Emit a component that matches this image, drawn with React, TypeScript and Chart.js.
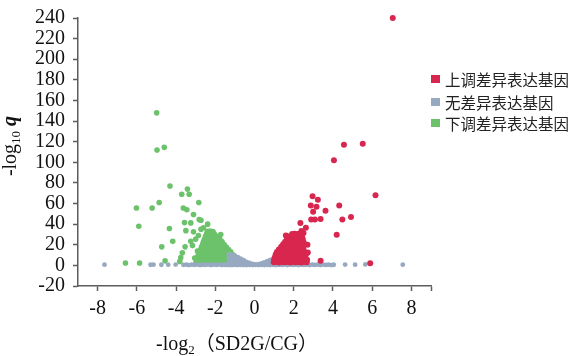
import React, { useEffect, useRef } from "react";
import { Chart, registerables } from "chart.js";

Chart.register(...registerables);

type P = [number, number];

const seriesNames = ["上调差异表达基因", "无差异表达基因", "下调差异表达基因"];
const seriesColors = ["#d8274f", "#97a9c1", "#6cc26b"];
const xTickValues = [-8, -6, -4, -2, 0, 2, 4, 6, 8];
const yTickValues = [-20, 0, 20, 40, 60, 80, 100, 120, 140, 160, 180, 200, 220, 240];

const upIsolated: P[] = [
  [7.05, 240], [4.56, 117], [5.52, 118], [4.05, 102], [6.17, 68], [2.96, 67], [3.23, 63.6],
  [2.87, 58], [3.16, 57], [4.32, 58], [2.99, 52], [3.62, 53], [2.89, 44.5], [3.08, 44.5],
  [3.37, 45], [4.48, 44.5], [4.92, 47], [2.34, 41], [2.62, 36.5], [2.39, 33.4], [4.19, 29.6],
  [3.37, 4.4], [5.9, 2], [2.72, 12.5], [2.7, 20], [1.6, 29], [2.5, 31.5],
];

const upCluster: P[] = [
  [0.98, 3], [1.12, 3.4], [1.26, 2.9], [1.4, 3.2], [1.54, 3], [1.68, 3.4], [1.82, 2.8], [1.96, 3.2], [2.1, 3], [2.24, 3.3], [2.38, 2.9], [2.52, 3.2], [2.66, 3],
  [1.0, 5.5], [1.14, 5.8], [1.28, 5.3], [1.42, 5.6], [1.56, 5.4], [1.7, 5.7], [1.84, 5.5], [1.98, 5.3], [2.12, 5.7], [2.26, 5.5], [2.4, 5.3], [2.54, 5.7], [2.68, 5.4],
  [1.04, 8], [1.18, 8.3], [1.32, 7.8], [1.46, 8.1], [1.6, 8], [1.74, 7.8], [1.88, 8.2], [2.02, 8], [2.16, 7.9], [2.3, 8.2], [2.44, 8], [2.58, 7.8],
  [1.08, 10.5], [1.22, 10.8], [1.36, 10.4], [1.5, 10.6], [1.64, 10.3], [1.78, 10.7], [1.92, 10.5], [2.06, 10.3], [2.2, 10.6], [2.34, 10.4], [2.48, 10.7], [2.62, 10.5],
  [1.14, 13], [1.28, 13.3], [1.42, 12.9], [1.56, 13.1], [1.7, 12.8], [1.84, 13.2], [1.98, 13], [2.12, 12.8], [2.26, 13.2], [2.4, 13], [2.54, 12.9],
  [1.24, 15.5], [1.38, 15.8], [1.52, 15.4], [1.66, 15.6], [1.8, 15.3], [1.94, 15.7], [2.08, 15.5], [2.22, 15.3], [2.36, 15.6], [2.5, 15.4],
  [1.36, 18], [1.5, 18.3], [1.64, 17.9], [1.78, 18.1], [1.92, 17.8], [2.06, 18.2], [2.2, 18], [2.34, 17.8], [2.48, 18.2],
  [1.46, 20.5], [1.6, 20.8], [1.74, 20.4], [1.88, 20.6], [2.02, 20.3], [2.16, 20.7], [2.3, 20.5], [2.44, 20.3], [2.56, 20.6],
  [1.56, 23], [1.7, 23.3], [1.84, 22.9], [1.98, 23.1], [2.12, 22.8], [2.26, 23.2], [2.4, 23], [2.5, 22.8],
  [1.66, 25.5], [1.8, 25.8], [1.94, 25.4], [2.08, 25.6], [2.22, 25.3], [2.36, 25.7], [2.46, 25.5],
  [1.74, 28], [1.88, 28.3], [2.02, 27.9], [2.16, 28.1], [2.3, 27.8], [2.42, 28.2],
  [1.92, 30.5], [2.06, 30.8], [2.2, 30.4], [2.32, 30.6],
];

const noneIsolated: P[] = [
  [-7.65, 0.7], [-5.3, 0.6], [-5.15, 0.7], [-4.75, 0.6], [-4.4, 0.7], [-4.02, 0.8],
  [4.62, 0.8], [5.13, 0.7], [5.65, 0.9], [7.56, 0.7],
];

const noneBand: P[] = [
  [-3.62, 0.4], [-3.48, 0.8], [-3.35, 0.3], [-3.2, 0.7], [-3.06, 0.4], [-2.92, 0.8], [-2.78, 0.3], [-2.64, 0.6],
  [-2.5, 0.4], [-2.36, 0.8], [-2.22, 0.3], [-2.08, 0.7], [-1.94, 0.4], [-1.8, 0.8], [-1.66, 0.3], [-1.52, 0.6], [-1.42, 0.4],
  [-1.3, 0.3], [-1.3, 2.6], [-1.3, 5], [-1.3, 7.5], [-1.3, 10], [-1.3, 11],
  [-1.15, 0.3], [-1.15, 2.6], [-1.15, 5], [-1.15, 7.5], [-1.15, 10],
  [-1.0, 0.4], [-1.0, 2.7], [-1.0, 5], [-1.0, 7.4], [-1.0, 9.5],
  [-0.85, 0.3], [-0.85, 2.6], [-0.85, 5], [-0.85, 8],
  [-0.7, 0.4], [-0.7, 2.5], [-0.7, 4.6], [-0.7, 6.5],
  [-0.55, 0.3], [-0.55, 2.6], [-0.55, 5],
  [-0.4, 0.3], [-0.4, 2], [-0.4, 3.5],
  [-0.25, 0.4], [-0.25, 2.3],
  [-0.1, 0.3], [-0.1, 1.5],
  [0.05, 0.4], [0.05, 1],
  [0.2, 0.3], [0.2, 1.2],
  [0.35, 0.4], [0.35, 2],
  [0.5, 0.3], [0.5, 1.8], [0.5, 3],
  [0.65, 0.4], [0.65, 2.2], [0.65, 4],
  [0.8, 0.3], [0.8, 2.7], [0.8, 5.3],
  [0.95, 0.4], [0.95, 2.6], [0.95, 4.8], [0.95, 6.5],
  [1.1, 0.3], [1.1, 2.5], [1.1, 5], [1.1, 7.5],
  [1.25, 0.4], [1.25, 2.6], [1.25, 5], [1.25, 8.5],
  [1.4, 0.4], [1.54, 0.7], [1.68, 0.3], [1.82, 0.8], [1.96, 0.4], [2.1, 0.7], [2.24, 0.3], [2.38, 0.8],
  [2.52, 0.4], [2.66, 0.7], [2.8, 0.3], [2.94, 0.8], [3.08, 0.4], [3.22, 0.7], [3.36, 0.3], [3.5, 0.8],
  [3.64, 0.4], [3.78, 0.7], [3.92, 0.3], [4.04, 0.6],
];

const downIsolated: P[] = [
  [-4.99, 148], [-4.97, 112], [-4.6, 114.5], [-4.31, 77], [-3.42, 74], [-3.71, 69], [-3.33, 69],
  [-2.84, 61], [-4.86, 61], [-6.02, 55.7], [-5.22, 55.7], [-3.63, 55.7], [-3.45, 54], [-3.11, 49.4],
  [-2.82, 44.4], [-2.73, 43.8], [-3.57, 41.5], [-3.25, 41.2], [-2.39, 40], [-5.9, 38], [-4.34, 35.8],
  [-3.5, 33.7], [-3.11, 32.7], [-2.73, 35], [-4.17, 23.3], [-4.73, 18], [-3.54, 18], [-3.25, 23.3],
  [-3.16, 19.2], [-3.68, 12.3], [-3.76, 7.5], [-2.91, 13.9], [-4.56, 4.4], [-3.81, 3.8],
  [-6.58, 2.3], [-5.86, 2.3], [-3.05, 7.2], [-3.0, 25.5], [-2.86, 29], [-2.6, 36.5], [-1.72, 30],
];

const downCluster: P[] = [
  [-2.98, 3], [-2.84, 3.4], [-2.7, 2.8], [-2.55, 3.2], [-2.4, 3], [-2.26, 3.5], [-2.1, 2.9], [-1.96, 3.3], [-1.8, 3], [-1.66, 3.4], [-1.5, 2.9], [-1.36, 3.2], [-1.2, 3], [-1.06, 3.3], [-0.92, 3], [-0.8, 3.2],
  [-2.95, 5.6], [-2.8, 5.3], [-2.65, 5.8], [-2.5, 5.4], [-2.35, 5.6], [-2.2, 5.3], [-2.05, 5.7], [-1.9, 5.5], [-1.75, 5.8], [-1.6, 5.4], [-1.45, 5.6], [-1.3, 5.3], [-1.16, 5.7], [-1.02, 5.5], [-0.9, 5.3],
  [-2.9, 8.2], [-2.75, 7.8], [-2.6, 8.1], [-2.45, 7.9], [-2.3, 8.3], [-2.15, 8], [-2.0, 7.8], [-1.85, 8.2], [-1.7, 8], [-1.55, 7.9], [-1.4, 8.2], [-1.26, 7.9], [-1.12, 8.1], [-1.0, 7.8],
  [-2.86, 10.4], [-2.7, 10.8], [-2.55, 10.5], [-2.4, 10.3], [-2.25, 10.7], [-2.1, 10.5], [-1.95, 10.2], [-1.8, 10.6], [-1.65, 10.4], [-1.5, 10.7], [-1.36, 10.4], [-1.22, 10.6], [-1.1, 10.3],
  [-2.8, 13.2], [-2.65, 12.8], [-2.5, 13.1], [-2.35, 13.3], [-2.2, 12.9], [-2.05, 13.2], [-1.9, 13], [-1.75, 12.8], [-1.6, 13.2], [-1.46, 13], [-1.33, 12.9], [-1.21, 13.1],
  [-2.74, 15.6], [-2.6, 15.3], [-2.45, 15.7], [-2.3, 15.4], [-2.15, 15.6], [-2.0, 15.3], [-1.85, 15.7], [-1.7, 15.5], [-1.56, 15.3], [-1.43, 15.6], [-1.32, 15.4],
  [-2.7, 18.1], [-2.55, 17.8], [-2.4, 18.2], [-2.25, 18], [-2.1, 17.8], [-1.95, 18.3], [-1.8, 18], [-1.66, 17.9], [-1.54, 18.2], [-1.44, 17.9],
  [-2.64, 20.6], [-2.5, 20.3], [-2.35, 20.7], [-2.2, 20.4], [-2.05, 20.6], [-1.9, 20.3], [-1.77, 20.7], [-1.65, 20.5], [-1.55, 20.3],
  [-2.6, 23.2], [-2.45, 22.8], [-2.3, 23.1], [-2.15, 23.3], [-2.0, 22.9], [-1.87, 23.1], [-1.75, 22.8], [-1.66, 23.2],
  [-2.55, 25.4], [-2.4, 25.7], [-2.25, 25.5], [-2.1, 25.3], [-1.97, 25.7], [-1.86, 25.4], [-1.77, 25.6],
  [-2.5, 28.1], [-2.35, 27.8], [-2.2, 28.2], [-2.07, 28], [-1.95, 27.8], [-1.87, 28.2],
  [-2.44, 30.6], [-2.3, 30.3], [-2.17, 30.7], [-2.05, 30.4],
  [-2.4, 33], [-2.26, 33.4], [-2.12, 32.8],
];

const toXY = (pts: P[]) => pts.map(([x, y]) => ({ x, y }));

const AXIS_COLOR = "#5c5c5c";
const SERIF = '"Liberation Serif", "Times New Roman", serif';

const axisTitlePlugin = {
  id: "axisTitles",
  afterDraw(chart: any) {
    const ctx = chart.ctx as CanvasRenderingContext2D;
    ctx.save();
    ctx.fillStyle = "#111";
    ctx.textBaseline = "alphabetic";
    ctx.textAlign = "left";

    const big = `20px ${SERIF}`;
    const small = `13px ${SERIF}`;
    const bq = `italic bold 20px ${SERIF}`;
    ctx.font = big;
    const w1 = ctx.measureText("-log").width;
    ctx.font = small;
    const w2 = ctx.measureText("10").width;
    ctx.font = big;
    const w3 = ctx.measureText(" ").width;
    ctx.font = bq;
    const w4 = ctx.measureText("q").width;
    const total = w1 + w2 + w3 + w4;
    const ya = chart.chartArea;
    ctx.translate(16, (ya.top + ya.bottom) / 2 - 6);
    ctx.rotate(-Math.PI / 2);
    let x = -total / 2;
    ctx.font = big;
    ctx.fillText("-log", x, 0);
    x += w1;
    ctx.font = small;
    ctx.fillText("10", x, 4);
    x += w2 + w3;
    ctx.font = bq;
    ctx.fillText("q", x, 0);
    ctx.restore();

    ctx.save();
    ctx.fillStyle = "#111";
    ctx.textBaseline = "alphabetic";
    ctx.textAlign = "left";
    const xbig = `20px ${SERIF}, "Noto Sans CJK SC"`;
    const xsmall = `13px ${SERIF}`;
    ctx.font = xbig;
    const a1 = ctx.measureText("-log").width;
    ctx.font = xsmall;
    const a2 = ctx.measureText("2").width;
    ctx.font = xbig;
    const a3 = ctx.measureText("（SD2G/CG）").width;
    const tw = a1 + a2 + a3;
    const cx = 237;
    const by = 350;
    let xx = cx - tw / 2;
    ctx.font = xbig;
    ctx.fillText("-log", xx, by);
    xx += a1;
    ctx.font = xsmall;
    ctx.fillText("2", xx, by + 4);
    xx += a2;
    ctx.font = xbig;
    ctx.fillText("（SD2G/CG）", xx, by);
    ctx.restore();
  },
};

export default function App() {
  const canvasRef = useRef<HTMLCanvasElement | null>(null);

  useEffect(() => {
    if (!canvasRef.current) return;
    const chart = new Chart(canvasRef.current, {
      type: "scatter",
      data: {
        datasets: [
          {
            label: seriesNames[0],
            data: toXY([...upCluster, ...upIsolated]),
            backgroundColor: seriesColors[0],
            borderWidth: 0,
            pointRadius: 3,
            clip: false,
          },
          {
            label: seriesNames[1],
            data: toXY([...noneBand, ...noneIsolated]),
            backgroundColor: seriesColors[1],
            borderWidth: 0,
            pointRadius: 2.4,
            clip: false,
          },
          {
            label: seriesNames[2],
            data: toXY([...downCluster, ...downIsolated]),
            backgroundColor: seriesColors[2],
            borderWidth: 0,
            pointRadius: 2.8,
            clip: false,
          },
        ],
      },
      options: {
        animation: false,
        responsive: false,
        devicePixelRatio: 1,
        layout: { padding: { left: 0, right: 145, top: 10, bottom: 0 } },
        plugins: {
          legend: { display: false },
          tooltip: { enabled: false },
        },
        scales: {
          x: {
            type: "linear",
            min: -9,
            max: 9,
            afterBuildTicks: (scale: any) => {
              scale.ticks = [...xTickValues, 9].map((v) => ({ value: v }));
            },
            afterFit: (scale: any) => {
              scale.height = 70;
            },
            ticks: {
              color: "#111",
              font: { family: SERIF, size: 20, lineHeight: 1 },
              padding: 8,
              maxRotation: 0,
              autoSkip: false,
              callback: (v: any) => (v === 9 ? "" : String(v)),
            },
            grid: {
              display: true,
              drawOnChartArea: false,
              drawTicks: true,
              tickLength: 5,
              tickColor: AXIS_COLOR,
              tickWidth: 1.5,
            },
            border: { display: true, color: AXIS_COLOR, width: 1.5 },
          },
          y: {
            type: "linear",
            min: -20,
            max: 240,
            afterBuildTicks: (scale: any) => {
              scale.ticks = yTickValues.map((v) => ({ value: v }));
            },
            afterFit: (scale: any) => {
              scale.width = 78;
            },
            ticks: {
              color: "#111",
              font: { family: SERIF, size: 20, lineHeight: 1 },
              padding: 8,
              autoSkip: false,
              callback: (v: any) => String(v),
            },
            grid: {
              display: true,
              drawOnChartArea: false,
              drawTicks: true,
              tickLength: 5,
              tickColor: AXIS_COLOR,
              tickWidth: 1.5,
            },
            border: { display: true, color: AXIS_COLOR, width: 1.5 },
          },
        },
      },
      plugins: [axisTitlePlugin],
    } as any);
    return () => chart.destroy();
  }, []);

  const legendTops = [79, 102, 123];

  return (
    <div style={{ position: "fixed", left: 0, top: 0, width: 576, height: 356, background: "#fff" }}>
      <canvas ref={canvasRef} width={576} height={356} style={{ display: "block" }} />
      {seriesNames.map((name, i) => (
        <div key={name} style={{ position: "absolute", left: 431, top: legendTops[i] - 9, height: 18, display: "flex", alignItems: "center", whiteSpace: "nowrap" }}>
          <span style={{ display: "inline-block", width: 9, height: 8, background: seriesColors[i], marginRight: 5 }} />
          <span style={{ font: '15.5px "Noto Sans CJK SC", sans-serif', color: "#222", lineHeight: "18px" }}>{name}</span>
        </div>
      ))}
    </div>
  );
}
